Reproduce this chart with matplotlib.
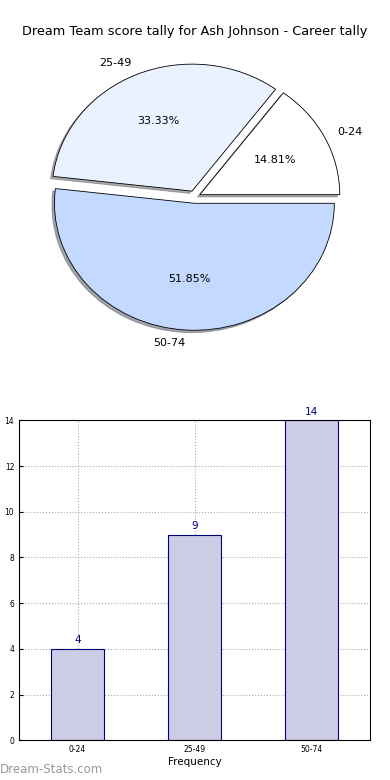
import matplotlib
matplotlib.use("Agg")
import matplotlib.pyplot as plt

categories = ["0-24", "25-49", "50-74"]
counts = [4, 9, 14]
pie_colors = ["#FFFFFF", "#EAF1FF", "#C4D9FF"]
title = "Dream Team score tally for Ash Johnson - Career tally"

fig = plt.figure(figsize=(3.9, 7.8), dpi=100)

# Pie
axp = fig.add_axes([0.051, 0.544, 0.897, 0.407])
wedges, texts, autotexts = axp.pie(
    counts, labels=categories, colors=pie_colors, autopct="%1.2f%%",
    explode=[0.04, 0.05, 0.05],
    shadow=dict(ox=-0.013, oy=-0.013, shade=0.65), startangle=0,
    wedgeprops=dict(edgecolor="black", linewidth=0.6),
    textprops=dict(fontsize=8), labeldistance=1.1, pctdistance=0.6)
axp.set_aspect("auto")
fig.text(0.5, 0.96, title, ha="center", va="center", fontsize=9.3)

# Bar chart
axb = fig.add_axes([0.049, 0.051, 0.9, 0.41])
x = list(range(len(categories)))
bars = axb.bar(x, counts, width=0.45, color="#CCCCE5", edgecolor="#000080",
               linewidth=0.8, zorder=2)
for xi, c in zip(x, counts):
    axb.text(xi, c + 0.15, str(c), ha="center", va="bottom", fontsize=7.5,
             color="#000080")
axb.set_xlim(-0.5, 2.5)
axb.set_ylim(0, 14)
axb.set_xticks(x)
axb.set_xticklabels(categories)
axb.set_yticks(range(0, 15, 2))
axb.tick_params(labelsize=5.5, direction="in", length=3)
axb.grid(True, linestyle=":", color="#AAAAAA", linewidth=0.8, zorder=0)
axb.set_axisbelow(True)
axb.set_xlabel("Frequency", fontsize=7.5, labelpad=2)
axb.set_ylabel("Occurrences", fontsize=7.5, labelpad=6)
fig.text(0.0, 0.005, "Dream-Stats.com", fontsize=8.5, color="#999999",
         ha="left", va="bottom")

fig.savefig("out.png", dpi=100)
